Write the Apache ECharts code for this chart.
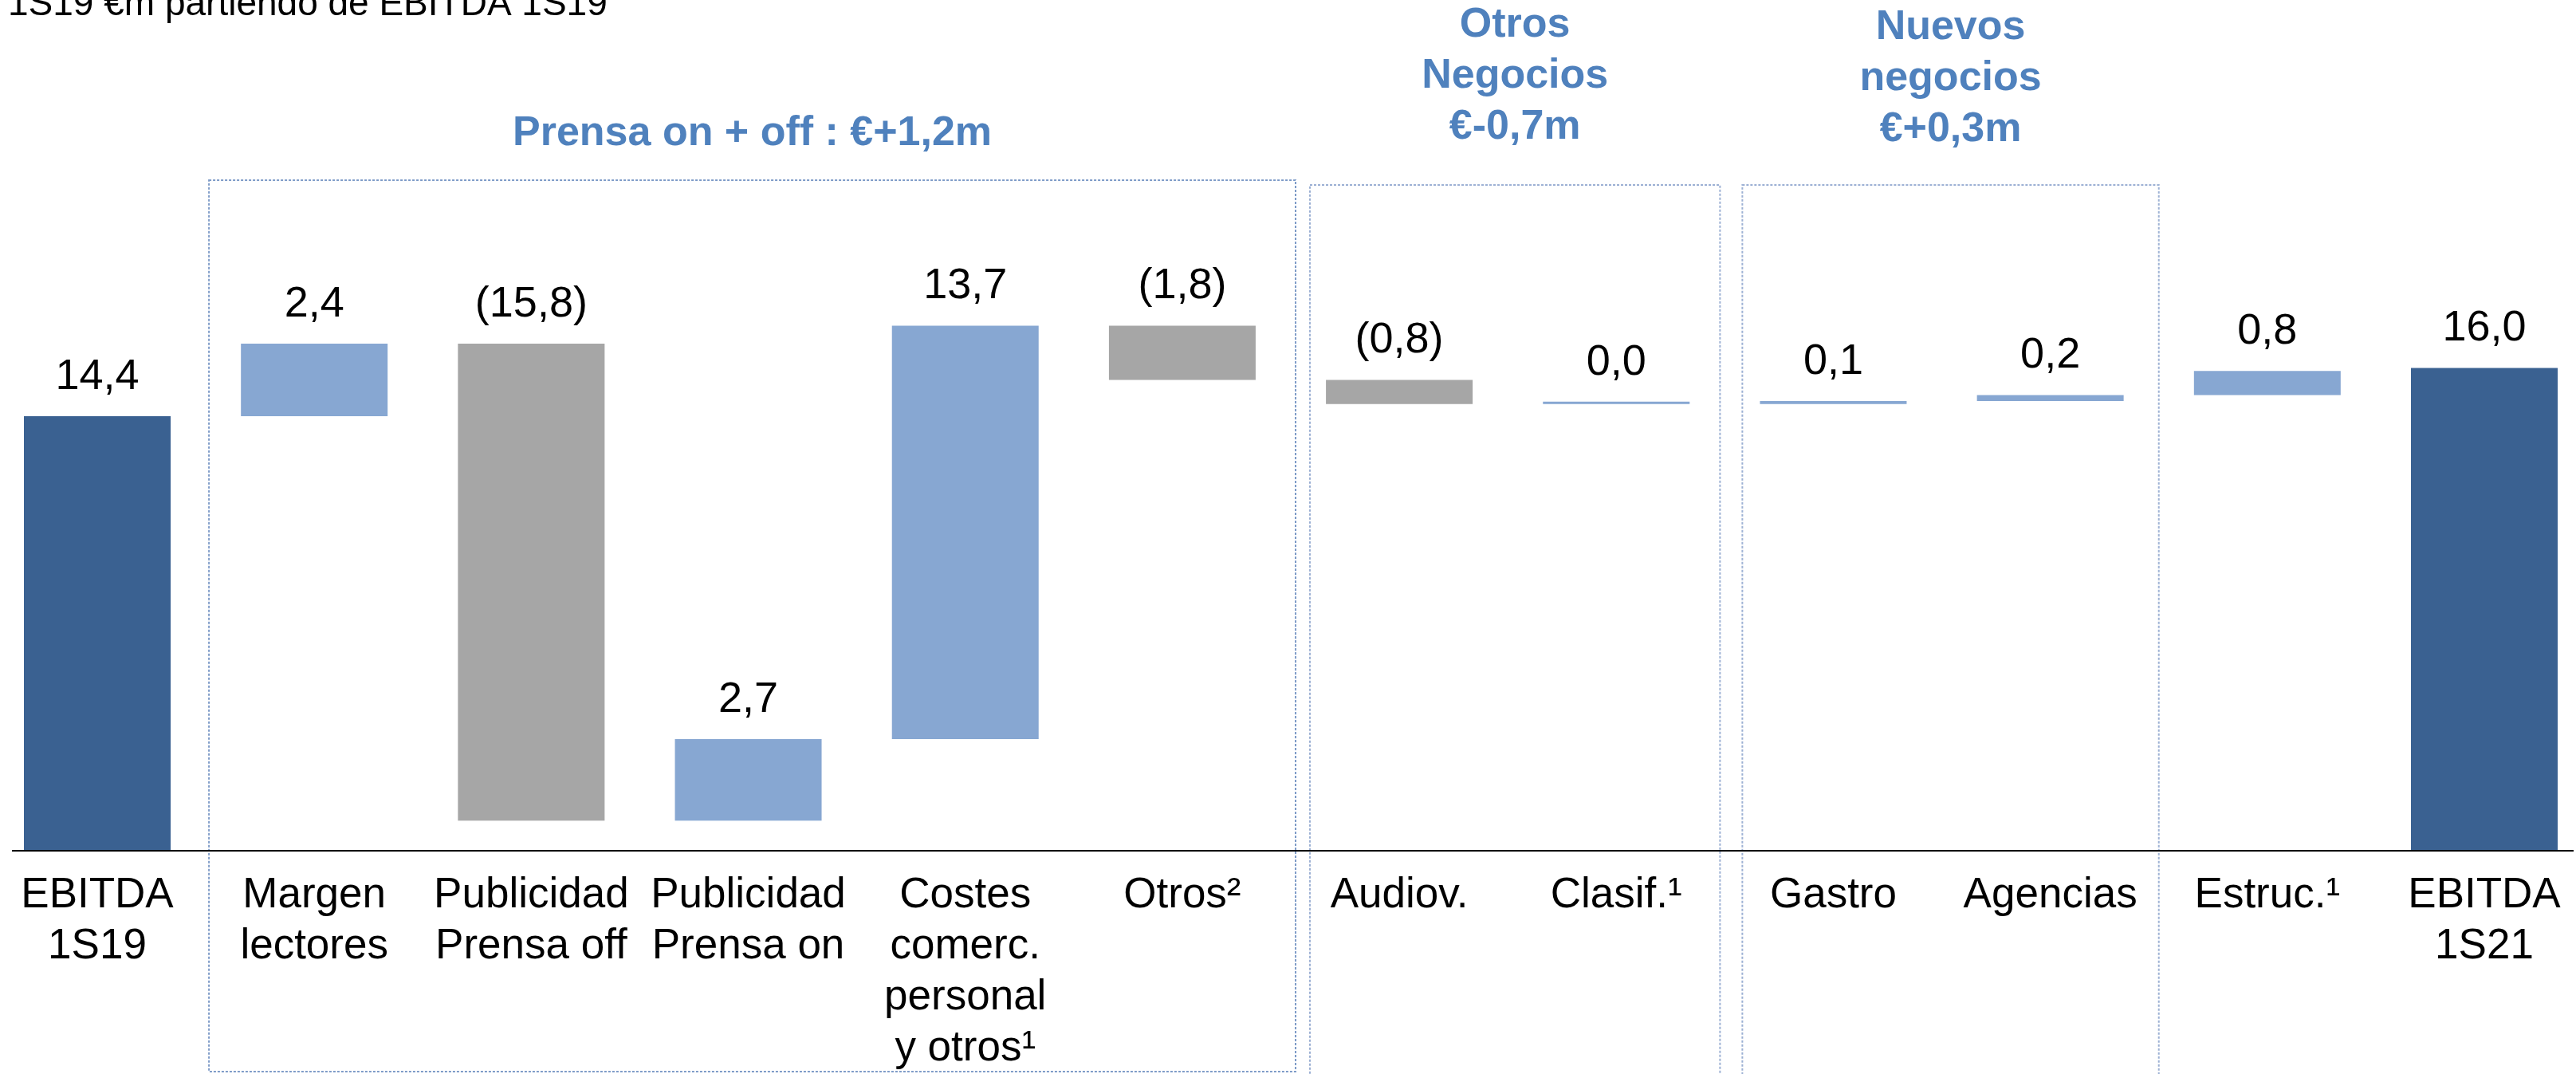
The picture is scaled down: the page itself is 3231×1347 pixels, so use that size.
<!DOCTYPE html>
<html>
<head>
<meta charset="utf-8">
<script src="https://cdn.jsdelivr.net/npm/echarts@6/dist/echarts.min.js"></script>
<style>
html,body{margin:0;padding:0;background:#fff;}
#chart{width:3231px;height:1347px;}
</style>
</head>
<body>
<div id="chart"></div>
<script>
// ---- data ----
const categories = ['EBITDA\n1S19', 'Margen\nlectores', 'Publicidad\nPrensa off', 'Publicidad\nPrensa on',
  'Costes\ncomerc.\npersonal\ny otros¹', 'Otros²', 'Audiov.', 'Clasif.¹', 'Gastro', 'Agencias', 'Estruc.¹', 'EBITDA\n1S21'];
const startTotal = 14.4;
const endTotal = 16.0;
const deltas = [2.4, -15.8, 2.7, 13.7, -1.8, -0.8, 0.0, 0.1, 0.2, 0.8];
const groupTitles = ['Prensa on + off : €+1,2m', 'Otros\nNegocios\n€-0,7m', 'Nuevos\nnegocios\n€+0,3m'];
const subtitle = '1S19 €m partiendo de EBITDA 1S19';

// ---- build waterfall ----
const FONT = 'Liberation Sans';
const C_TOTAL = '#3A6191', C_UP = '#87A7D2', C_DOWN = '#A6A6A6', C_TITLE = '#4F81BD';
const base = [], inc = [], dec = [], tot = [];
base.push('-'); inc.push('-'); dec.push('-'); tot.push(startTotal);
let cum = startTotal;
deltas.forEach(d => {
  if (d >= 0) { base.push(cum); inc.push(d); dec.push('-'); }
  else { base.push(cum + d); inc.push('-'); dec.push(-d); }
  tot.push('-');
  cum += d;
});
base.push('-'); inc.push('-'); dec.push('-'); tot.push(endTotal);

const fmt = v => Number(v).toFixed(1).replace('.', ',');
const lbl = {show: true, position: 'top', distance: 19, fontSize: 54, lineHeight: 60, color: '#000', fontFamily: FONT};

const chart = echarts.init(document.getElementById('chart'), null, {renderer: 'canvas'});
const barCommon = {type: 'bar', stack: 'w', barWidth: 184, clip: false};
chart.setOption({
  animation: false,
  backgroundColor: '#fff',
  grid: {left: 122, right: 115, top: 310, height: 764, containLabel: false},
  xAxis: {
    type: 'category', data: categories, boundaryGap: false,
    axisLine: {show: false}, axisTick: {show: false}, splitLine: {show: false},
    axisLabel: {interval: 0, fontSize: 53, lineHeight: 64, margin: 24, color: '#000', fontFamily: FONT, align: 'center'}
  },
  yAxis: {type: 'value', min: 0, max: 20, show: false, splitLine: {show: false}},
  series: [
    Object.assign({name: 'base', data: base, silent: true, itemStyle: {color: 'rgba(0,0,0,0)'}}, barCommon),
    Object.assign({name: 'inc', data: inc, barMinHeight: 3, itemStyle: {color: C_UP},
      label: Object.assign({}, lbl, {formatter: p => fmt(p.value)})}, barCommon),
    Object.assign({name: 'dec', data: dec, itemStyle: {color: C_DOWN},
      label: Object.assign({}, lbl, {formatter: p => '(' + fmt(p.value) + ')'})}, barCommon),
    Object.assign({name: 'total', data: tot, itemStyle: {color: C_TOTAL},
      label: Object.assign({}, lbl, {formatter: p => fmt(p.value)})}, barCommon)
  ]
});

// ---- annotations positioned from the axis scales ----
const cx = i => chart.convertToPixel({xAxisIndex: 0}, i);
const bnd = i => (cx(i) + cx(i + 1)) / 2;
const y0 = chart.convertToPixel({yAxisIndex: 0}, 0);

const boxes = [
  {x1: bnd(0) + 4, x2: bnd(5) + 6, top: 226, bottom: 1344, stroke: '#7F9CC8'},
  {x1: bnd(5) + 24, x2: bnd(7) - 6, top: 232, bottom: 1400, stroke: '#9DB1D4'},
  {x1: bnd(7) + 22, x2: bnd(9), top: 232, bottom: 1400, stroke: '#9DB1D4'}
];
const titleTops = [136, 0, 3];
const graphics = [];
boxes.forEach((b, k) => {
  graphics.push({type: 'rect', z: 1, shape: {x: b.x1, y: b.top, width: b.x2 - b.x1, height: b.bottom - b.top},
    style: {fill: 'none', stroke: b.stroke, lineWidth: 2, lineDash: [3, 2]}});
  graphics.push({type: 'text', z: 2, x: (b.x1 + b.x2) / 2, y: titleTops[k],
    style: {text: groupTitles[k], fill: C_TITLE, fontSize: 52, fontWeight: 'bold', fontFamily: FONT,
      lineHeight: 64, align: 'center', verticalAlign: 'top'}});
});
graphics.push({type: 'line', z: 3, shape: {x1: 15, y1: y0, x2: 3228, y2: y0}, style: {stroke: '#000', lineWidth: 2}});
graphics.push({type: 'text', z: 2, x: 10, y: 29,
  style: {text: subtitle, fill: '#000', fontSize: 46, fontFamily: FONT, verticalAlign: 'bottom', align: 'left'}});
chart.setOption({graphic: graphics});
</script>
</body>
</html>
